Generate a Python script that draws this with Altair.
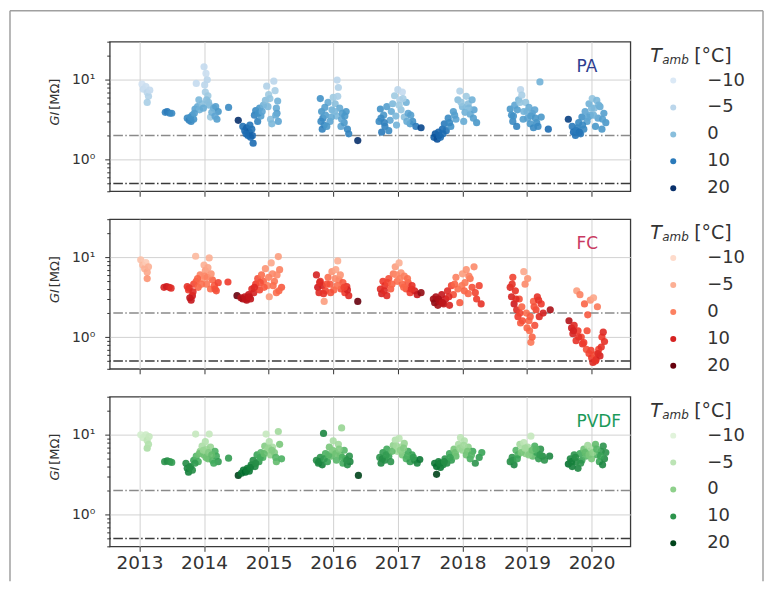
import altair as alt
import pandas as pd

# ---------------- data ----------------
# PA panel
pa_year = [2013.04, 2013.06, 2013.10, 2013.12, 2013.14, 2013.12, 2013.16,
           2013.40, 2013.43, 2013.47, 2013.50,
           2013.74, 2013.77, 2013.80, 2013.84, 2013.82, 2013.86, 2013.90, 2013.88, 2013.93, 2013.97,
           2014.00, 2014.03, 2014.05, 2014.02, 2014.06, 2014.04, 2014.08, 2014.10, 2014.15, 2014.18,
           2014.20, 2014.22, 2014.38,
           2014.53,
           2014.60, 2014.63, 2014.66, 2014.68, 2014.70, 2014.72, 2014.74, 2014.76, 2014.78, 2014.80,
           2014.83, 2014.86, 2014.88, 2014.92, 2014.95, 2014.97, 2015.00, 2015.03, 2015.05, 2015.08,
           2015.10, 2015.12, 2015.14, 2015.15, 2015.13,
           2015.80, 2015.82, 2015.84, 2015.86, 2015.83, 2015.88, 2015.92, 2015.95, 2015.98, 2016.00,
           2016.03, 2016.06, 2016.08, 2016.05, 2016.10, 2016.12, 2016.14, 2016.17, 2016.20, 2016.22,
           2016.24, 2016.38,
           2016.71, 2016.73, 2016.75, 2016.78, 2016.80, 2016.83, 2016.86, 2016.88, 2016.92, 2016.95,
           2016.98, 2017.00, 2017.03, 2017.05, 2017.07, 2017.10, 2017.13, 2017.16, 2017.19, 2017.23,
           2017.28, 2017.36,
           2017.56, 2017.58, 2017.61, 2017.63, 2017.66, 2017.69, 2017.72, 2017.75, 2017.78, 2017.82,
           2017.86, 2017.90, 2017.93, 2017.96, 2018.00, 2018.02, 2018.06, 2018.09, 2018.12, 2018.15,
           2018.18, 2018.22,
           2018.74, 2018.76, 2018.78, 2018.81, 2018.84, 2018.87, 2018.90, 2018.92, 2018.95, 2018.98,
           2019.01, 2019.03, 2019.05, 2019.08, 2019.10, 2019.12, 2019.15, 2019.20, 2019.22, 2019.33,
           2019.64, 2019.70, 2019.72, 2019.75, 2019.78, 2019.80, 2019.83, 2019.85, 2019.88, 2019.90,
           2019.93, 2019.96, 2019.98, 2020.01, 2020.04, 2020.06, 2020.08, 2020.10, 2020.13, 2020.16,
           2020.19, 2020.22,
           2013.79, 2013.85, 2013.92, 2013.99, 2014.01, 2014.07, 2014.12, 2014.17,
           2014.65, 2014.71, 2014.75, 2014.84, 2014.90, 2014.99, 2015.02, 2015.11,
           2015.81, 2015.87, 2015.90, 2015.97, 2016.02, 2016.07, 2016.13, 2016.18,
           2016.74, 2016.79, 2016.90, 2016.97, 2017.02, 2017.08, 2017.14, 2017.20,
           2017.64, 2017.70, 2017.80, 2017.88, 2017.98, 2018.04, 2018.10, 2018.17,
           2018.79, 2018.85, 2018.89, 2018.94, 2019.00, 2019.06, 2019.13, 2019.17,
           2019.76, 2019.81, 2019.86, 2019.95, 2020.00, 2020.03, 2020.11, 2020.17]
pa_g = [8.8, 7.6, 8.2, 6.9, 6.2, 5.2, 7.4,
        3.9, 4.0, 3.8, 3.8,
        3.3, 3.1, 3.0, 3.2, 3.6, 4.3, 4.6, 9.0, 4.2, 5.0,
        14.5, 12.0, 10.0, 7.0, 6.3, 5.6, 4.8, 3.4, 4.4, 4.6,
        3.2, 4.0, 4.5,
        3.1,
        2.6, 2.3, 2.5, 2.0, 2.2, 1.9, 2.4, 1.6, 3.6, 4.1,
        3.0, 4.4, 3.5, 4.8, 5.5, 8.3, 6.5, 3.2, 2.8, 9.6,
        7.3, 4.4, 5.4, 3.0, 3.8,
        5.8, 4.0, 3.3, 2.7, 2.4, 3.6, 5.2, 3.0, 4.2, 6.0,
        5.0, 9.9, 8.0, 3.5, 4.4, 2.6, 3.8, 2.9, 4.0, 2.4,
        2.1, 1.73,
        3.0, 4.3, 2.2, 3.6, 2.6, 4.6, 2.3, 3.1, 5.0, 6.3,
        2.7, 7.5, 5.6, 4.2, 7.0, 3.4, 5.2, 3.8, 2.8, 3.0,
        2.6, 2.5,
        1.9, 2.1, 1.8, 2.2, 1.9, 2.4, 2.8, 2.3, 3.3, 2.6,
        4.0, 3.2, 5.6, 7.2, 4.6, 3.0, 6.2, 5.0, 3.7, 5.6,
        4.2, 2.9,
        4.3, 3.6, 3.0, 4.8, 2.6, 5.6, 7.5, 6.4, 4.0, 5.2,
        3.3, 4.5, 2.8, 3.8, 2.5, 4.2, 2.9, 9.4, 3.4, 2.4,
        3.2, 2.6, 2.2, 2.0, 2.5, 2.9, 2.1, 3.4, 2.4, 4.0,
        3.0, 5.0, 3.6, 5.8, 4.4, 2.6, 5.5, 3.3, 4.6, 2.4,
        3.8, 2.9,
        3.4, 3.8, 5.6, 4.4, 8.6, 5.2, 3.9, 3.5,
        2.1, 2.7, 2.0, 3.8, 4.0, 4.6, 5.8, 3.6,
        3.0, 4.5, 2.6, 3.4, 4.0, 6.2, 3.2, 3.5,
        3.3, 2.9, 4.0, 3.5, 4.8, 5.8, 3.0, 3.6,
        2.0, 2.1, 2.9, 3.6, 5.2, 3.9, 4.4, 3.3,
        3.5, 4.2, 5.2, 3.2, 4.0, 3.5, 3.3, 2.6,
        2.3, 2.2, 2.7, 3.4, 4.4, 3.6, 4.8, 3.2]
pa_t = [-8, -6, -7, -5, -4, -3, -6,
        9, 10, 9, 8,
        8, 9, 8, 7, 5, 4, 3, -6, 2, 0,
        -6, -7, -5, -3, -2, 0, 1, -2, 3, 5,
        5, 6, 8,
        20,
        11, 12, 13, 12, 14, 12, 11, 12, 9, 8,
        9, 6, 5, 2, 0, -4, -2, 0, 1, -5,
        -3, 3, 2, 4, 5,
        7, 6, 8, 7, 9, 5, 3, 4, 2, -2,
        0, -5, -4, 1, 3, 4, 5, 6, 6, 8,
        9, 20,
        8, 7, 10, 6, 9, 5, 8, 4, 1, -2,
        2, -5, -4, -1, -6, 0, 2, 4, 5, 7,
        10, 17,
        14, 15, 16, 13, 12, 12, 10, 11, 8, 7,
        5, 4, 0, -4, 1, 3, -2, 0, 3, 2,
        4, 6,
        6, 7, 8, 4, 9, 1, -5, -3, 2, -1,
        4, 3, 6, 5, 8, 4, 7, 2, 6, 12,
        18, 10, 12, 11, 9, 8, 10, 7, 8, 4,
        5, 2, 3, -1, 0, 6, 1, 4, 3, 6,
        5, 6,
        7, 5, 1, 3, -5, 0, 2, 4,
        12, 11, 13, 7, 4, 1, -1, 3,
        8, 5, 6, 3, 1, -3, 4, 6,
        8, 9, 3, 1, -2, -3, 3, 5,
        13, 12, 8, 5, -1, 2, 1, 5,
        7, 5, -1, 5, 2, 5, 6, 8,
        10, 11, 8, 4, 1, 2, 2, 5]

# FC panel
fc_year = [2013.02, 2013.05, 2013.08, 2013.10, 2013.12, 2013.12, 2013.14,
           2013.38, 2013.42, 2013.46, 2013.49,
           2013.74, 2013.76, 2013.78, 2013.80, 2013.82, 2013.84, 2013.87, 2013.88, 2013.91, 2013.94,
           2013.97, 2014.00, 2014.02, 2014.04, 2014.06, 2014.08, 2014.10, 2014.13, 2014.16, 2014.19,
           2014.22, 2014.37,
           2014.51, 2014.57, 2014.60, 2014.63, 2014.66, 2014.69, 2014.72, 2014.74, 2014.77, 2014.80,
           2014.83, 2014.86, 2014.89, 2014.92, 2014.95, 2014.98, 2015.01, 2015.04, 2015.06, 2015.09,
           2015.12, 2015.15, 2015.17, 2015.20, 2015.16,
           2015.74, 2015.76, 2015.78, 2015.80, 2015.83, 2015.86, 2015.88, 2015.92, 2015.95, 2015.98,
           2016.01, 2016.04, 2016.07, 2016.09, 2016.12, 2016.15, 2016.18, 2016.21, 2016.24, 2016.22,
           2016.38,
           2016.73, 2016.75, 2016.77, 2016.80, 2016.83, 2016.86, 2016.89, 2016.93, 2016.96, 2016.99,
           2017.02, 2017.05, 2017.07, 2017.10, 2017.13, 2017.16, 2017.19, 2017.22, 2017.26, 2017.30,
           2017.36,
           2017.55, 2017.57, 2017.59, 2017.62, 2017.65, 2017.68, 2017.71, 2017.74, 2017.77, 2017.80,
           2017.83, 2017.86, 2017.90, 2017.93, 2017.96, 2018.00, 2018.04, 2018.06, 2018.09, 2018.12,
           2018.15, 2018.18, 2018.22, 2018.26, 2018.29,
           2018.74, 2018.76, 2018.78, 2018.80, 2018.82, 2018.84, 2018.86, 2018.88, 2018.90, 2018.92,
           2018.95, 2018.97, 2018.99, 2019.01, 2019.03, 2019.04, 2019.06, 2019.08, 2019.10, 2019.12,
           2019.14, 2019.16, 2019.19, 2019.22, 2019.25, 2019.36,
           2019.65, 2019.69, 2019.71, 2019.73, 2019.76, 2019.77, 2019.79, 2019.82, 2019.84, 2019.86,
           2019.89, 2019.92, 2019.94, 2019.96, 2019.98, 2020.00, 2020.02, 2020.03, 2020.05, 2020.07,
           2020.09, 2020.11, 2020.13, 2020.16, 2020.18, 2020.20,
           2013.77, 2013.83, 2013.90, 2013.96, 2014.01, 2014.05, 2014.11, 2014.17,
           2014.64, 2014.70, 2014.78, 2014.87, 2014.93, 2015.00, 2015.07, 2015.13,
           2015.79, 2015.85, 2015.90, 2015.96, 2016.03, 2016.06, 2016.11, 2016.17,
           2016.79, 2016.84, 2016.91, 2016.98, 2017.03, 2017.09, 2017.15, 2017.21,
           2017.63, 2017.69, 2017.79, 2017.88, 2017.99, 2018.03, 2018.10, 2018.20,
           2018.77, 2018.83, 2018.89, 2018.93, 2019.00, 2019.05, 2019.11, 2019.18,
           2019.72, 2019.80, 2019.88, 2019.93, 2019.99, 2020.06, 2020.10, 2020.15]
fc_g = [9.3, 8.0, 7.2, 8.6, 6.5, 5.4, 7.6,
        4.2, 4.3, 4.2, 4.1,
        4.3, 3.9, 3.1, 2.9, 3.3, 4.6, 10.3, 5.0, 4.2, 6.0,
        5.4, 8.0, 6.8, 4.6, 7.4, 9.8, 4.0, 5.2, 4.4, 3.8,
        4.8, 4.9,
        3.3, 3.1, 3.0, 3.2, 2.9, 3.4, 3.0, 4.0, 3.6, 4.6,
        5.4, 3.9, 6.0, 5.0, 7.2, 4.4, 3.2, 8.5, 6.2, 5.0,
        3.6, 10.2, 7.0, 4.2, 3.8,
        6.0, 4.2, 3.6, 5.0, 4.4, 2.8, 3.8, 5.6, 4.6, 6.6,
        3.9, 7.0, 9.0, 5.2, 4.0, 4.8, 3.6, 4.3, 3.3, 3.9,
        2.8,
        4.0, 3.5, 5.0, 4.4, 3.3, 5.4, 4.0, 6.2, 7.6, 5.0,
        8.5, 6.4, 4.6, 5.8, 4.0, 4.8, 3.6, 4.4, 3.8, 3.4,
        3.6,
        3.0, 2.7, 3.2, 2.5, 2.8, 3.4, 2.6, 3.0, 3.8, 2.5,
        4.4, 3.4, 5.6, 4.0, 2.7, 6.2, 4.8, 7.0, 3.5, 5.4,
        4.2, 7.6, 3.0, 4.4, 2.6,
        4.2, 3.2, 5.6, 2.6, 3.8, 2.2, 1.8, 3.0, 1.5, 2.4,
        6.6, 4.6, 2.0, 5.4, 1.6, 1.2, 0.86, 1.0, 2.8, 1.4,
        2.2, 3.2, 1.8, 2.6, 2.0, 2.2,
        1.6, 1.3, 1.1, 1.4, 0.9, 3.8, 1.2, 3.4, 1.0, 0.82,
        2.6, 0.7, 1.9, 0.62, 2.9, 0.55, 0.48, 3.1, 0.6, 0.52,
        2.4, 0.7, 0.58, 1.0, 1.15, 0.88,
        4.1, 3.7, 5.4, 4.6, 5.8, 5.6, 6.2, 4.0,
        3.0, 3.2, 4.2, 4.8, 4.2, 5.6, 4.4, 6.0,
        4.8, 3.5, 4.6, 3.6, 5.4, 4.4, 6.0, 4.2,
        3.8, 4.8, 4.6, 6.0, 5.4, 4.2, 5.4, 4.0,
        3.0, 2.7, 3.2, 4.6, 4.4, 3.8, 5.8, 3.6,
        4.6, 3.0, 2.0, 1.6, 1.3, 1.8, 2.4, 2.9,
        1.2, 1.0, 0.85, 1.2, 0.68, 0.5, 0.62, 0.75]
fc_t = [-7, -6, -5, -8, -4, -2, -5,
        10, 11, 10, 9,
        8, 7, 13, 12, 11, 6, -6, 4, 3, 0,
        -2, -5, -3, 1, -4, -5, 2, 3, 4, 5,
        6, 7,
        20, 14, 15, 13, 14, 12, 13, 9, 10, 7,
        5, 6, 2, 3, -2, 0, -3, -4, -1, 1,
        2, -3, 0, 4, 3,
        10, 11, 9, 8, 10, -3, 6, 2, 4, -2,
        3, -4, -5, 0, 5, 4, 7, 8, 9, 10,
        20,
        9, 10, 7, 8, 9, 5, 4, 1, -3, 2,
        -5, -2, 3, 0, 5, 4, 7, 8, 10, 12,
        17,
        16, 17, 15, 16, 14, 12, 13, 11, 9, 10,
        6, 5, 0, 2, 4, -3, 1, -2, 3, 2,
        5, -1, 7, 6, 8,
        9, 10, 6, 11, 8, 9, 7, 5, 4, 3,
        -4, -1, 2, -2, 3, 2, 1, 3, 4, 5,
        6, 8, 9, 7, 10, 15,
        14, 11, 10, 9, 8, -3, 7, 0, 6, 8,
        3, 5, 4, 6, -2, 7, 9, -4, 5, 8,
        1, 6, 10, 7, 9, 8,
        8, 9, 3, 2, -1, 0, -2, 5,
        13, 12, 9, 5, 4, 0, 2, -1,
        9, 8, 5, 5, -1, 2, -2, 6,
        9, 6, 3, -1, 0, 3, 2, 8,
        15, 13, 9, 3, 1, 3, 0, 6,
        8, 9, 6, 5, 3, 4, 5, 8,
        10, 8, 7, 5, 6, 8, 9, 8]

# PVDF panel
pv_year = [2013.02, 2013.06, 2013.10, 2013.12, 2013.12, 2013.15, 2013.14,
           2013.39, 2013.43, 2013.47, 2013.50,
           2013.72, 2013.74, 2013.76, 2013.79, 2013.82, 2013.84, 2013.87, 2013.88, 2013.91, 2013.94,
           2013.97, 2014.00, 2014.02, 2014.04, 2014.06, 2014.08, 2014.10, 2014.13, 2014.17, 2014.19,
           2014.22, 2014.38,
           2014.53, 2014.58, 2014.61, 2014.64, 2014.67, 2014.70, 2014.73, 2014.76, 2014.79, 2014.82,
           2014.85, 2014.88, 2014.91, 2014.94, 2014.96, 2014.98, 2015.01, 2015.03, 2015.06, 2015.09,
           2015.12, 2015.15, 2015.17, 2015.20,
           2015.74, 2015.77, 2015.80, 2015.85, 2015.83, 2015.88, 2015.91, 2015.94, 2015.97, 2016.00,
           2016.02, 2016.05, 2016.08, 2016.11, 2016.13, 2016.15, 2016.17, 2016.19, 2016.22, 2016.25,
           2016.26, 2016.39,
           2016.72, 2016.74, 2016.77, 2016.80, 2016.83, 2016.86, 2016.89, 2016.93, 2016.96, 2016.99,
           2017.02, 2017.05, 2017.07, 2017.10, 2017.13, 2017.16, 2017.19, 2017.22, 2017.26, 2017.30,
           2017.34,
           2017.60, 2017.57, 2017.60, 2017.63, 2017.66, 2017.70, 2017.73, 2017.76, 2017.80, 2017.83,
           2017.87, 2017.90, 2017.94, 2017.97, 2018.00, 2018.03, 2018.06, 2018.09, 2018.12, 2018.16,
           2018.20, 2018.26, 2018.30,
           2018.74, 2018.77, 2018.80, 2018.83, 2018.86, 2018.89, 2018.92, 2018.95, 2018.98, 2019.01,
           2019.04, 2019.06, 2019.09, 2019.12, 2019.15, 2019.18, 2019.21, 2019.24, 2019.27, 2019.35,
           2019.64, 2019.67, 2019.70, 2019.73, 2019.76, 2019.79, 2019.82, 2019.85, 2019.88, 2019.91,
           2019.94, 2019.97, 2020.00, 2020.03, 2020.06, 2020.09, 2020.12, 2020.15, 2020.18, 2020.20,
           2020.22, 2020.17,
           2013.78, 2013.86, 2013.93, 2013.99, 2014.03, 2014.07, 2014.12, 2014.15,
           2014.66, 2014.72, 2014.80, 2014.87, 2014.93, 2015.00, 2015.05, 2015.11,
           2015.78, 2015.86, 2015.93, 2015.99, 2016.04, 2016.09, 2016.14, 2016.21,
           2016.76, 2016.82, 2016.91, 2016.98, 2017.04, 2017.09, 2017.15, 2017.24,
           2017.65, 2017.72, 2017.81, 2017.89, 2017.96, 2018.02, 2018.08, 2018.14,
           2018.78, 2018.85, 2018.91, 2018.97, 2019.03, 2019.08, 2019.14, 2019.20,
           2019.69, 2019.75, 2019.83, 2019.90, 2019.96, 2020.02, 2020.08, 2020.14]
pv_g = [10.0, 9.2, 10.0, 8.5, 6.8, 9.5, 7.6,
        4.6, 4.7, 4.6, 4.5,
        4.4, 3.8, 3.4, 4.0, 3.6, 4.8, 10.2, 5.4, 4.6, 6.2,
        7.2, 5.6, 8.2, 6.6, 5.0, 10.2, 7.0, 4.8, 6.2, 5.4,
        4.6, 5.1,
        3.1, 3.3, 3.6, 3.4, 3.8, 3.5, 4.2, 4.8, 4.0, 5.6,
        4.6, 6.0, 5.2, 7.2, 10.2, 6.4, 8.2, 5.6, 7.0, 6.0,
        4.6, 11.0, 7.6, 5.0,
        4.8, 4.4, 5.2, 10.4, 4.2, 5.8, 4.6, 7.0, 5.4, 8.4,
        6.2, 4.8, 7.6, 5.6, 12.2, 4.4, 6.4, 5.0, 4.2, 5.4,
        4.6, 3.1,
        5.2, 4.4, 6.0, 4.8, 6.6, 5.4, 4.6, 7.4, 8.6, 6.2,
        9.0, 7.0, 5.6, 7.8, 5.0, 6.2, 4.6, 5.6, 4.8, 4.4,
        4.9,
        3.2, 4.4, 4.0, 4.6, 3.9, 4.2, 5.0, 4.4, 5.8, 4.8,
        6.6, 5.4, 7.6, 9.2, 6.4, 8.4, 5.6, 7.0, 5.0, 6.2,
        4.4, 5.2, 6.0,
        4.6, 5.2, 4.2, 6.4, 5.6, 7.6, 6.6, 8.0, 5.8, 7.0,
        6.2, 9.6, 5.4, 7.2, 6.0, 5.0, 6.6, 5.4, 4.8, 5.4,
        4.3, 5.0, 4.0, 5.6, 4.6, 3.8, 5.8, 4.8, 6.6, 5.4,
        7.4, 6.2, 5.0, 6.8, 7.6, 5.6, 4.6, 6.2, 7.2, 5.0,
        6.0, 4.2,
        3.9, 4.4, 5.8, 6.4, 5.2, 6.0, 5.6, 4.4,
        3.6, 3.9, 4.4, 5.2, 5.8, 6.8, 6.4, 5.2,
        4.6, 5.0, 5.6, 6.4, 5.8, 6.6, 5.2, 4.8,
        5.0, 5.6, 6.2, 7.2, 6.4, 6.8, 5.4, 5.2,
        4.4, 4.6, 5.2, 6.0, 6.8, 7.4, 6.2, 5.6,
        4.8, 5.0, 6.0, 6.8, 5.6, 6.4, 6.6, 5.6,
        4.6, 5.2, 4.4, 6.0, 5.6, 6.0, 6.6, 5.4]
pv_t = [-8, -7, -7, -5, -3, -6, -4,
        10, 11, 10, 9,
        11, 12, 13, 12, 11, 8, -6, 5, 6, 0,
        -3, 2, -4, -2, 3, -6, -1, 5, 6, 7,
        9, 9,
        20, 15, 14, 16, 13, 14, 12, 11, 12, 8,
        9, 5, 6, 1, -6, -2, -4, 0, -3, 1,
        4, -2, 2, 6,
        11, 12, 10, 12, 13, 6, 8, 2, 4, -3,
        0, 5, -2, 3, -1, 7, 5, 9, 11, 10,
        12, 20,
        10, 12, 9, 11, 7, 8, 10, 0, -4, -2,
        -5, -3, 2, -1, 6, 7, 9, 8, 11, 12,
        14,
        20, 14, 15, 13, 14, 12, 10, 11, 7, 9,
        2, 4, -3, -5, -1, -4, 3, 0, 6, 7,
        10, 9, 8,
        11, 10, 12, 5, 6, -2, -4, -5, 0, -3,
        -1, -6, 4, 6, 8, 9, 10, 11, 10, 12,
        15, 12, 13, 10, 11, 12, 7, 8, 3, 5,
        -2, -1, 2, -3, 4, 6, 8, 9, 10, 11,
        10, 12,
        11, 9, 3, -1, 3, 1, 4, 7,
        14, 13, 11, 7, 4, -1, 1, 5,
        12, 9, 5, 1, 3, 1, 6, 10,
        11, 9, 4, -2, 0, 1, 6, 9,
        13, 11, 8, 3, -1, -2, 2, 5,
        10, 8, 2, -2, 1, 3, 5, 9,
        13, 11, 10, 4, 2, 0, 5, 8]

years = [2013, 2014, 2015, 2016, 2017, 2018, 2019, 2020]
y_ticks = [0.4, 0.5, 0.6, 0.7, 0.8, 0.9, 1, 2, 3, 4, 5, 6, 7, 8, 9, 10, 20, 30]
thresholds = [2.0, 0.5]
legend_values = [-10, -5, 0, 10, 20]
t_stops = [-15, -10.625, -6.25, -1.875, 2.5, 6.875, 11.25, 15.625, 20]
blues = ["#f7fbff", "#deebf7", "#c6dbef", "#9ecae1", "#6baed6", "#4292c6", "#2171b5", "#08519c", "#08306b"]
reds = ["#fff5f0", "#fee0d2", "#fcbba1", "#fc9272", "#fb6a4a", "#ef3b2c", "#cb181d", "#a50f15", "#67000d"]
greens = ["#f7fcf5", "#e5f5e0", "#c7e9c0", "#a1d99b", "#74c476", "#41ab5d", "#238b45", "#006d2c", "#00441b"]

X_DOMAIN = [2012.54, 2020.6]
Y_DOMAIN = [0.4, 30]
W, H = 522, 150
GRID = "#d2d2d2"
TXT = "#333333"
DASH = [9.6, 2.4, 1.5, 2.4]
MAJOR = "datum.value == 1 || datum.value == 10"

one = pd.DataFrame({"k": [0]})


def panel(year, g, t, colors, name, name_color, bottom, frame):
    df = pd.DataFrame({"year": year, "g": g, "t": t})
    xs = alt.Scale(domain=X_DOMAIN, nice=False, zero=False)
    ys = alt.Scale(type="log", domain=Y_DOMAIN, nice=False)
    xaxis = alt.Axis(values=years, format="d", labels=bottom, title=None, grid=True,
                     gridColor=GRID, gridWidth=1, tickSize=5, tickColor=TXT, tickWidth=1,
                     labelFontSize=18.5, labelColor=TXT, labelPadding=2, domain=False)
    yaxis = alt.Axis(values=y_ticks, title=None, grid=True, gridColor=GRID, gridWidth=1,
                     gridOpacity={"condition": {"test": MAJOR, "value": 1}, "value": 0},
                     tickSize={"condition": {"test": MAJOR, "value": 5}, "value": 3},
                     labelExpr="datum.value == 1 ? '10⁰' : (datum.value == 10 ? '10¹' : '')",
                     labelOverlap=False, labelFlush=False, tickColor=TXT, tickWidth=1,
                     labelFontSize=14, labelColor=TXT, labelPadding=10, domain=False)

    pts = alt.Chart(df).mark_circle(size=52, opacity=0.9).encode(
        x=alt.X("year:Q", scale=xs, axis=xaxis),
        y=alt.Y("g:Q", scale=ys, axis=yaxis),
        color=alt.Color("t:Q",
                        scale=alt.Scale(domain=t_stops, range=colors, clamp=True, interpolate="rgb"),
                        legend=alt.Legend(type="symbol", values=legend_values, title=None, format="d",
                                          orient="none", legendX=556, legendY=30,
                                          symbolType="circle", symbolSize=36, symbolStrokeWidth=0,
                                          symbolOpacity=1, labelFontSize=18, labelColor=TXT,
                                          labelOffset=25, rowPadding=9, padding=0)),
    )
    hi = alt.Chart(pd.DataFrame({"g": [thresholds[0]]})).mark_rule(
        color="#8a8a8a", strokeWidth=1.5, strokeDash=DASH).encode(
        y=alt.Y("g:Q", scale=ys, axis=yaxis))
    lo = alt.Chart(pd.DataFrame({"g": [thresholds[1]]})).mark_rule(
        color="#3a3a3a", strokeWidth=1.5, strokeDash=DASH).encode(
        y=alt.Y("g:Q", scale=ys, axis=yaxis))

    label = alt.Chart(one).mark_text(text=name, color=name_color, fontSize=17, align="left",
                                     baseline="middle").encode(x=alt.value(468), y=alt.value(25))
    ttl_t = alt.Chart(one).mark_text(text="T", fontStyle="italic", fontSize=19, align="left",
                                     baseline="middle", color=TXT).encode(x=alt.value(542), y=alt.value(14))
    ttl_s = alt.Chart(one).mark_text(text="amb", fontStyle="italic", fontSize=12, align="left",
                                     baseline="middle", color=TXT).encode(x=alt.value(554), y=alt.value(18))
    ttl_u = alt.Chart(one).mark_text(text="[°C]", fontSize=19, align="left",
                                     baseline="middle", color=TXT).encode(x=alt.value(586), y=alt.value(14))
    yt1 = alt.Chart(one).mark_text(text="GI", fontStyle="italic", fontSize=13, align="left",
                                   baseline="middle", angle=270, color=TXT).encode(x=alt.value(-55), y=alt.value(84))
    yt2 = alt.Chart(one).mark_text(text="[MΩ]", fontSize=13, align="right",
                                   baseline="middle", angle=270, color=TXT).encode(x=alt.value(-55), y=alt.value(37))

    layers = [hi, lo, pts, label, ttl_t, ttl_s, ttl_u, yt1, yt2]
    if frame:
        fc = "#a0a0a0"
        layers += [
            alt.Chart(one).mark_rule(color=fc, strokeWidth=1.5).encode(
                x=alt.value(-100), y=alt.value(-31), y2=alt.value(541)),
            alt.Chart(one).mark_rule(color=fc, strokeWidth=1.5).encode(
                x=alt.value(-100), x2=alt.value(655), y=alt.value(-31)),
            alt.Chart(one).mark_rule(color=fc, strokeWidth=1.5).encode(
                x=alt.value(655), y=alt.value(-31), y2=alt.value(541)),
        ]
    return alt.layer(*layers).properties(width=W, height=H)


p1 = panel(pa_year, pa_g, pa_t, blues, "PA", "#2e3d8f", False, True)
p2 = panel(fc_year, fc_g, fc_t, reds, "FC", "#c93a62", False, False)
p3 = panel(pv_year, pv_g, pv_t, greens, "PVDF", "#1b9a5a", True, False)

chart = (
    alt.vconcat(p1, p2, p3, spacing=28, bounds="flush")
    .resolve_scale(color="independent")
    .properties(padding=0)
    .configure(font="DejaVu Sans")
    .configure_view(stroke="#3a3a3a", strokeWidth=1.3)
)

chart.save("out.html", embed_options={"renderer": "svg", "actions": False})
